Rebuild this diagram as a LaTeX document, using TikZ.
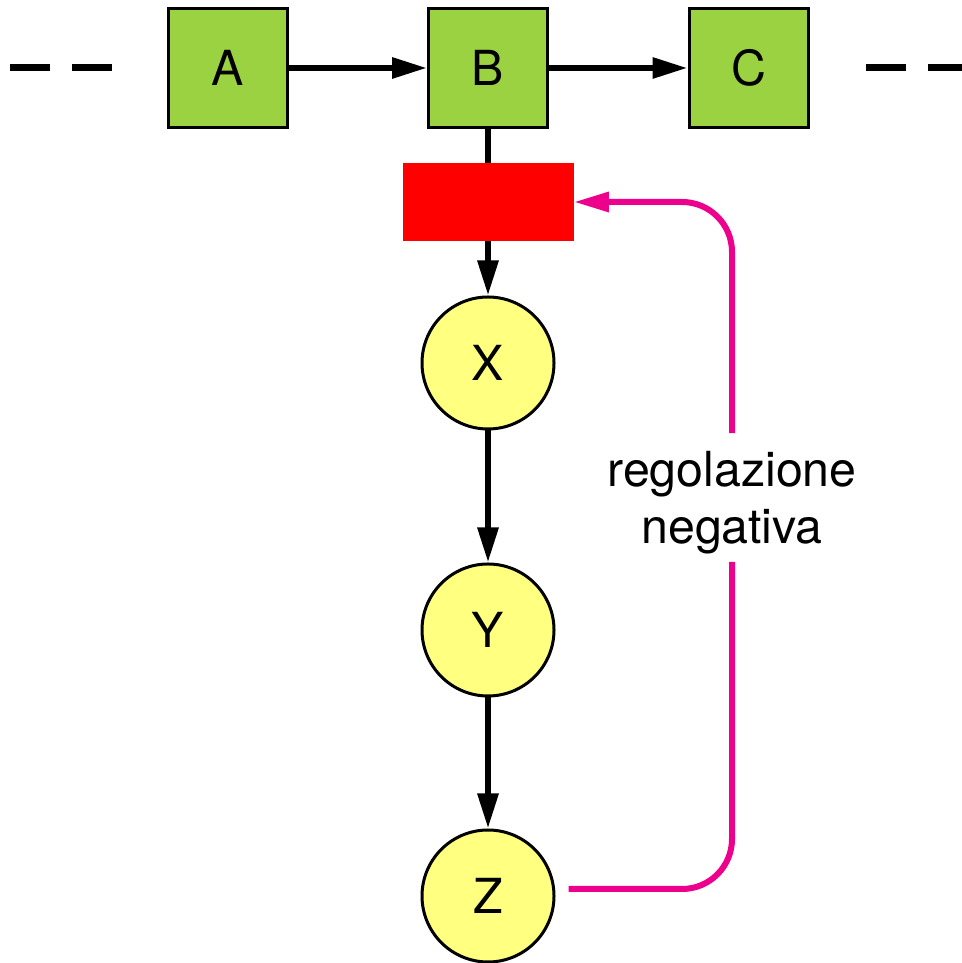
\documentclass[tikz,border=0pt]{standalone}
\usepackage{fontspec}
\setmainfont{TeX Gyre Heros}
\usepackage{xcolor}
\usetikzlibrary{arrows.meta}
\usetikzlibrary{math}

\definecolor{geneGreen}{RGB}{155,210,65}
\definecolor{metYellow}{RGB}{255,255,128}
\definecolor{regPink}{RGB}{236,0,140}

\begin{document}
\begin{tikzpicture}[
  gene/.style={draw,line width=0.06cm,fill=geneGreen,minimum size=2.38cm,inner sep=0},
  metab/.style={circle,draw,line width=0.06cm,fill=metYellow,minimum size=2.64cm,inner sep=0},
  flow/.style={line width=0.12cm,-{Triangle[length=0.7cm,width=0.4cm]}},
  feedback/.style={regPink,line width=0.12cm,rounded corners=1cm},
  font=\fontsize{27.5}{32.4}\selectfont
]
\tikzmath{
\yt=17.9;
\xm=9.76;
}
\useasboundingbox (0,0) rectangle (19.22,19.26);

\draw[line width=0.14cm,dash pattern=on 0.8cm off 0.44cm] (0.2,\yt) -- (2.24,\yt);
\draw[line width=0.14cm,dash pattern=on 0.8cm off 0.44cm] (17.32,\yt) -- (19.3,\yt);

\node[gene] (A) at (4.55,\yt) {A};
\node[gene] (B) at (\xm,\yt) {B};
\node[gene] (C) at (14.97,\yt) {C};
\node[fill=red,minimum width=3.42cm,minimum height=1.56cm,inner sep=0] (gate) at (\xm,15.22) {};

\node[metab] (X) at (\xm,12.0) {X};
\node[metab] (Y) at (\xm,6.66) {Y};
\node[metab] (Z) at (\xm,1.34) {Z};

\draw[flow] (A) -- (B);
\draw[flow] (B) -- (C);
\draw[line width=0.12cm] (B) -- (gate);
\draw[flow] (gate) -- (X);
\draw[flow] (X) -- (Y);
\draw[flow] (Y) -- (Z);

% inibizione da Z
\node[align=center,text depth=0pt,inner sep=0.36cm] (lbl) at (14.64,9.31) {regolazione\\negativa};
\coordinate (zout) at ([xshift=0.26cm,yshift=0.14cm]Z.east);
\draw[feedback] (zout) -- (zout -| lbl) -- (lbl.south);
\draw[feedback,-{Triangle[length=0.7cm,width=0.38cm]}] (lbl.north) -- (lbl.north |- gate.east) -- (gate.east);
\end{tikzpicture}
\end{document}
